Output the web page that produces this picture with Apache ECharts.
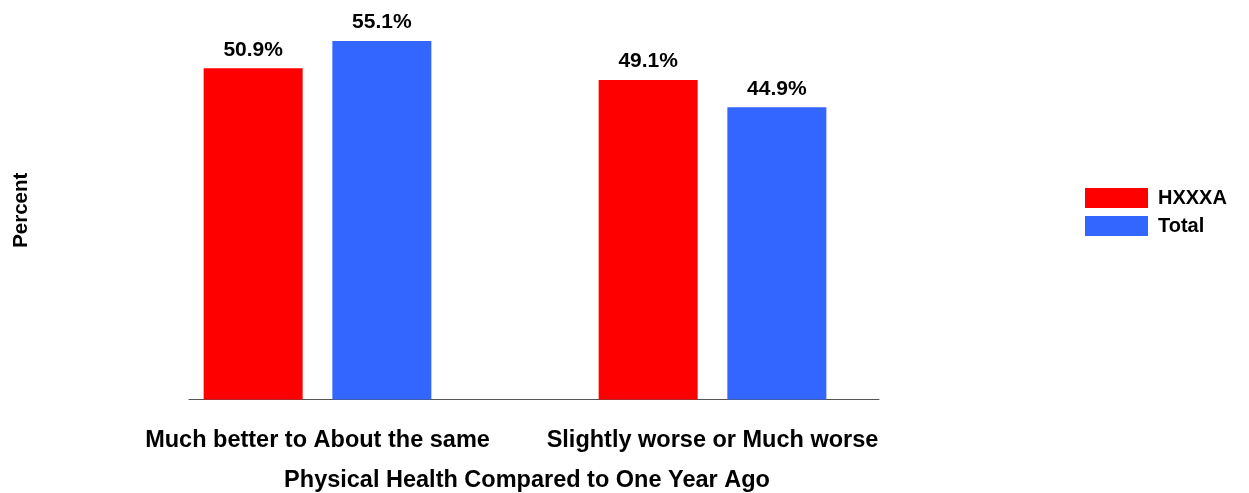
<!DOCTYPE html>
<html>
<head>
<meta charset="utf-8">
<script src="https://cdn.jsdelivr.net/npm/echarts@6/dist/echarts.min.js"></script>
<style>
html,body{margin:0;padding:0;background:#fff;}
#chart{width:1249px;height:493px;}
</style>
</head>
<body>
<div id="chart"></div>
<script>
var categories = ['Much better to About the same', 'Slightly worse or Much worse'];
var seriesNames = ['HXXXA', 'Total'];
var hxxxaValues = [50.9, 49.1];
var totalValues = [55.1, 44.9];
var xAxisTitle = 'Physical Health Compared to One Year Ago';
var yAxisTitle = 'Percent';

var FONT = '"Liberation Sans", Arial, Helvetica, sans-serif';
var chart = echarts.init(document.getElementById('chart'));
function lbl() {
  return {
    show: true, position: 'top', distance: 8,
    fontFamily: FONT, fontWeight: 'bold', fontSize: 21, color: '#000',
    formatter: function (p) { return p.value.toFixed(1) + '%'; }
  };
}
chart.setOption({
  animation: false,
  backgroundColor: '#fff',
  legend: {
    left: 1080, top: 183, orient: 'vertical',
    itemWidth: 63, itemHeight: 20, itemGap: 8, icon: 'rect',
    textStyle: { fontFamily: FONT, fontWeight: 'bold', fontSize: 20, color: '#000', padding: [0, 0, 0, 5] },
    data: seriesNames
  },
  grid: [
    { left: 120, right: 339, top: 9, bottom: 93.5, outerBoundsMode: 'none', containLabel: false },
    { left: 189, right: 370, top: 9, bottom: 93.5, outerBoundsMode: 'none', containLabel: false }
  ],
  xAxis: [
    {
      type: 'category', gridIndex: 0, data: categories,
      axisLine: { show: false }, axisTick: { show: false },
      axisLabel: { interval: 0, hideOverlap: false, margin: 29, fontFamily: FONT, fontWeight: 'bold', fontSize: 23.5, color: '#000' }
    },
    {
      type: 'category', gridIndex: 1, data: categories,
      axisLine: { show: true, lineStyle: { color: '#555', width: 1 } },
      axisTick: { show: false }, axisLabel: { show: false },
      name: xAxisTitle, nameLocation: 'middle', nameGap: 69,
      nameTextStyle: { fontFamily: FONT, fontWeight: 'bold', fontSize: 23.5, color: '#000', padding: [0, 14, 0, 0] }
    }
  ],
  yAxis: [
    {
      type: 'value', gridIndex: 0, min: 0, max: 60,
      axisLine: { show: false }, axisTick: { show: false }, axisLabel: { show: false }, splitLine: { show: false },
      name: yAxisTitle, nameLocation: 'middle', nameGap: 88, nameRotate: 90,
      nameTextStyle: { fontFamily: FONT, fontWeight: 'bold', fontSize: 20.5, color: '#000', padding: [0, 12, 0, 0] }
    },
    {
      type: 'value', gridIndex: 1, min: 0, max: 60, show: false
    }
  ],
  series: [
    { name: seriesNames[0], type: 'bar', xAxisIndex: 0, yAxisIndex: 0, data: hxxxaValues,
      barWidth: 99, barGap: '30%', itemStyle: { color: '#FF0000' }, label: lbl() },
    { name: seriesNames[1], type: 'bar', xAxisIndex: 0, yAxisIndex: 0, data: totalValues,
      barWidth: 99, barGap: '30%', itemStyle: { color: '#3366FF' }, label: lbl() }
  ]
});
</script>
</body>
</html>
